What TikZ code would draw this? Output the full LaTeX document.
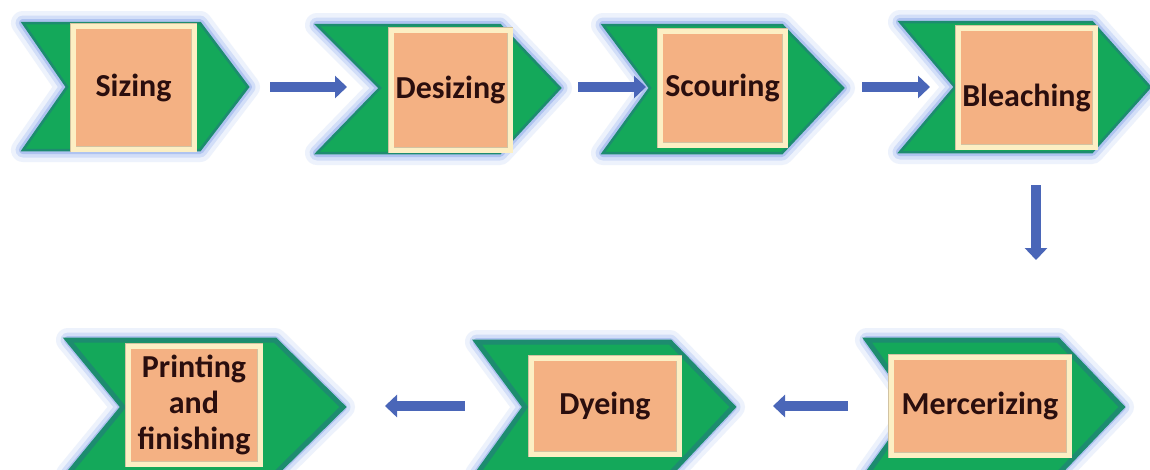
\documentclass[tikz,border=0pt]{standalone}
\usepackage{fontspec}
\setmainfont{Carlito}
\usetikzlibrary{arrows.meta,calc}
\definecolor{chgreen}{HTML}{14A85A}
\definecolor{chedge}{HTML}{1D8C6F}
\definecolor{glowA}{HTML}{EDF2FC}
\definecolor{glowB}{HTML}{D2DEF8}
\definecolor{glowC}{HTML}{AFC3F0}
\definecolor{sqorange}{HTML}{F4B183}
\definecolor{sqband}{HTML}{FCEFC4}
\definecolor{sqline}{HTML}{D2C3A2}
\definecolor{txt}{HTML}{2A0E0E}
\definecolor{arrblue}{HTML}{4A66B8}
\newcommand\mychev[8]{% #1 left x, #2 right x, #3 tip x, #4 notch x, #5 top y, #6 mid y, #7 bottom y, #8 edge width
  \path[glowa] (#1,#5) -- (#2,#5) -- (#3,#6) -- (#2,#7) -- (#1,#7) -- (#4,#6) -- cycle;
  \path[glowb] (#1,#5) -- (#2,#5) -- (#3,#6) -- (#2,#7) -- (#1,#7) -- (#4,#6) -- cycle;
  \path[glowc] (#1,#5) -- (#2,#5) -- (#3,#6) -- (#2,#7) -- (#1,#7) -- (#4,#6) -- cycle;
  \path[chev, line width=#8] (#1,#5) -- (#2,#5) -- (#3,#6) -- (#2,#7) -- (#1,#7) -- (#4,#6) -- cycle;
}
\begin{document}
\begin{tikzpicture}[x=1pt,y=-1pt,
  glowa/.style={draw=glowA, line width=24pt, line join=round},
  glowb/.style={draw=glowB, line width=15pt, line join=round},
  glowc/.style={draw=glowC, line width=8pt, line join=round},
  chev/.style={fill=chgreen, draw=chedge, line join=miter},
  sq/.style={rectangle, fill=sqorange, draw=sqline, double=sqband, double distance=5pt,
    line width=0.8pt, text=txt, font=\fontsize{32}{36}\selectfont\bfseries,
    align=center, inner sep=0pt},
  barrow/.style={draw=arrblue, line width=10pt, -{Triangle[length=12pt,width=22pt]}}
]
\useasboundingbox (0,0) rectangle (1150,469);
\fill[white] (0,0) rectangle (1150,469);

% chevrons
\mychev{23}{200}{248}{67}{23}{87}{150}{2.5pt}
\mychev{317}{500}{560}{380}{25}{88}{153}{2.5pt}
\mychev{603}{782}{843}{650}{25}{88}{153}{2.5pt}
\mychev{900}{1092}{1150}{955}{22}{87}{152}{2.5pt}
\mychev{867}{1058}{1122}{915}{340}{407}{474}{5pt}
\mychev{477}{670}{733}{525}{342}{407}{474}{5pt}
\mychev{68}{275}{343}{123}{340}{407}{474}{5pt}

% tip and notch points
\coordinate (t1) at (248,87);
\coordinate (n2) at (380,87);
\coordinate (t2) at (560,87);
\coordinate (n3) at (650,87);
\coordinate (t3) at (843,87);
\coordinate (n4) at (955,87);
\coordinate (t6) at (733,406);
\coordinate (t7) at (343,406);

% squares
\node[sq, minimum width=121pt, minimum height=123pt] (sizing) at (133.5,87.5) {Sizing};
\node[sq, minimum width=119pt, minimum height=120pt] (desizing) at (450.5,90) {Desizing};
\node[sq, minimum width=125pt, minimum height=114pt] (scouring) at (722.5,88) {Scouring};
\node[sq, minimum width=137pt, minimum height=119pt] (bleach) at (1026.5,87.5) {\raisebox{-10pt}[\height][\depth]{Bleaching}};
\node[sq, minimum width=178pt, minimum height=98pt] (merc) at (980,406) {Mercerizing};
\node[sq, minimum width=148pt, minimum height=96pt] (dye) at (605,406) {Dyeing};
\node[sq, minimum width=132pt, minimum height=118pt] (print) at (194,405) {Printing\\and\\finishing};

% arrows
\draw[barrow] ([xshift=22pt]t1) -- ([xshift=-33pt]n2);
\draw[barrow] ([xshift=18pt]t2) -- ([xshift=-4pt]n3);
\draw[barrow] ([xshift=19pt]t3) -- ([xshift=-25pt]n4);
\draw[barrow] ([xshift=9.5pt,yshift=-37.6pt]bleach.south) -- ([xshift=56pt,yshift=96.6pt]merc.north);
\draw[barrow] ([xshift=-43pt]merc.west) -- ([xshift=40pt]t6);
\draw[barrow] ([xshift=-66pt]dye.west) -- ([xshift=42pt]t7);
\end{tikzpicture}
\end{document}
